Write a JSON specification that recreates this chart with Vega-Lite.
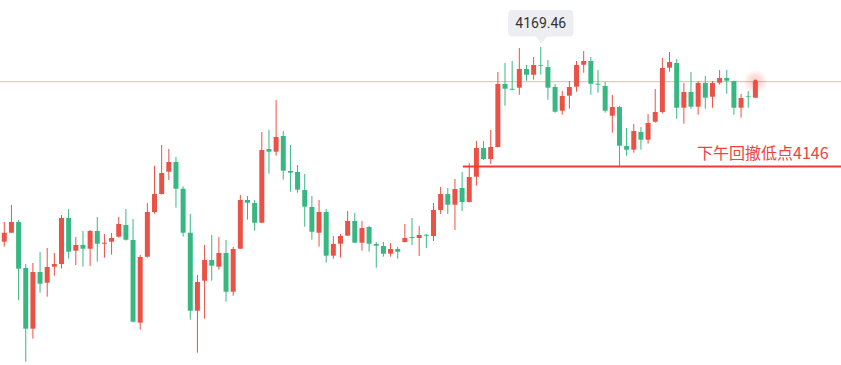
{
  "$schema": "https://vega.github.io/schema/vega-lite/v6.json",
  "width": 841,
  "height": 365,
  "autosize": {"type": "none"},
  "padding": 0,
  "background": "#ffffff",
  "config": {"view": {"stroke": null}},
  "data": {"values": [
{"i":0,"o":4131.24,"h":4135.10,"l":4130.26,"c":4133.00},
{"i":1,"o":4133.00,"h":4138.44,"l":4132.90,"c":4135.10},
{"i":2,"o":4135.10,"h":4135.50,"l":4119.79,"c":4125.94},
{"i":3,"o":4126.07,"h":4126.86,"l":4107.68,"c":4114.16},
{"i":4,"o":4114.16,"h":4127.06,"l":4112.20,"c":4125.29},
{"i":5,"o":4125.29,"h":4129.22,"l":4121.23,"c":4122.99},
{"i":6,"o":4123.19,"h":4130.00,"l":4120.44,"c":4126.27},
{"i":7,"o":4126.33,"h":4129.02,"l":4124.56,"c":4126.86},
{"i":8,"o":4126.86,"h":4136.48,"l":4125.94,"c":4135.89},
{"i":9,"o":4135.89,"h":4137.66,"l":4127.90,"c":4129.27},
{"i":10,"o":4129.47,"h":4132.16,"l":4126.66,"c":4130.59},
{"i":11,"o":4130.59,"h":4133.34,"l":4126.33,"c":4129.86},
{"i":12,"o":4129.86,"h":4133.53,"l":4126.47,"c":4133.34},
{"i":13,"o":4133.34,"h":4136.09,"l":4127.31,"c":4130.84},
{"i":14,"o":4130.84,"h":4132.75,"l":4128.10,"c":4131.04},
{"i":15,"o":4131.24,"h":4132.95,"l":4128.69,"c":4131.96},
{"i":16,"o":4132.22,"h":4136.09,"l":4132.02,"c":4134.71},
{"i":17,"o":4134.52,"h":4137.66,"l":4131.43,"c":4131.63},
{"i":18,"o":4131.57,"h":4135.69,"l":4115.40,"c":4115.53},
{"i":19,"o":4115.34,"h":4128.63,"l":4113.96,"c":4128.23},
{"i":20,"o":4128.29,"h":4138.83,"l":4128.10,"c":4137.07},
{"i":21,"o":4137.07,"h":4146.10,"l":4136.73,"c":4140.60},
{"i":22,"o":4140.60,"h":4150.22,"l":4140.50,"c":4144.72},
{"i":23,"o":4144.98,"h":4149.44,"l":4143.35,"c":4146.88},
{"i":24,"o":4146.88,"h":4147.86,"l":4137.91,"c":4141.64},
{"i":25,"o":4141.64,"h":4142.11,"l":4132.22,"c":4133.00},
{"i":26,"o":4133.00,"h":4136.68,"l":4115.93,"c":4117.69},
{"i":27,"o":4117.69,"h":4124.70,"l":4109.45,"c":4123.33},
{"i":28,"o":4123.58,"h":4130.59,"l":4116.12,"c":4127.65},
{"i":29,"o":4127.65,"h":4132.55,"l":4123.58,"c":4126.53},
{"i":30,"o":4126.33,"h":4132.16,"l":4125.74,"c":4129.02},
{"i":31,"o":4129.02,"h":4131.57,"l":4119.46,"c":4121.42},
{"i":32,"o":4121.42,"h":4130.20,"l":4120.64,"c":4129.80},
{"i":33,"o":4129.86,"h":4140.41,"l":4129.80,"c":4139.42},
{"i":34,"o":4139.42,"h":4140.21,"l":4135.56,"c":4138.89},
{"i":35,"o":4138.83,"h":4139.42,"l":4133.40,"c":4134.97},
{"i":36,"o":4134.97,"h":4152.77,"l":4134.90,"c":4149.24},
{"i":37,"o":4149.44,"h":4153.17,"l":4144.59,"c":4148.91},
{"i":38,"o":4148.91,"h":4159.05,"l":4148.12,"c":4151.79},
{"i":39,"o":4151.99,"h":4152.97,"l":4143.41,"c":4145.18},
{"i":40,"o":4145.12,"h":4150.22,"l":4141.05,"c":4144.78},
{"i":41,"o":4144.92,"h":4146.29,"l":4140.86,"c":4141.45},
{"i":42,"o":4141.39,"h":4144.53,"l":4134.18,"c":4138.11},
{"i":43,"o":4138.05,"h":4140.21,"l":4131.63,"c":4133.20},
{"i":44,"o":4133.00,"h":4139.42,"l":4130.26,"c":4137.07},
{"i":45,"o":4137.07,"h":4137.66,"l":4127.12,"c":4128.49},
{"i":46,"o":4128.49,"h":4132.36,"l":4127.90,"c":4130.79},
{"i":47,"o":4130.84,"h":4132.75,"l":4128.10,"c":4132.36},
{"i":48,"o":4132.42,"h":4137.26,"l":4132.36,"c":4135.30},
{"i":49,"o":4135.30,"h":4136.87,"l":4130.98,"c":4131.04},
{"i":50,"o":4131.04,"h":4135.30,"l":4129.47,"c":4133.93},
{"i":51,"o":4134.12,"h":4134.32,"l":4129.27,"c":4130.84},
{"i":52,"o":4130.79,"h":4131.18,"l":4126.13,"c":4130.45},
{"i":53,"o":4130.39,"h":4131.18,"l":4128.29,"c":4128.88},
{"i":54,"o":4128.88,"h":4130.98,"l":4128.29,"c":4129.80},
{"i":55,"o":4129.80,"h":4130.20,"l":4127.90,"c":4129.27},
{"i":56,"o":4131.18,"h":4134.71,"l":4131.10,"c":4131.96},
{"i":57,"o":4132.16,"h":4135.89,"l":4130.59,"c":4131.96},
{"i":58,"o":4131.96,"h":4134.32,"l":4128.43,"c":4132.55},
{"i":59,"o":4132.61,"h":4132.75,"l":4130.00,"c":4132.42},
{"i":60,"o":4132.36,"h":4138.83,"l":4131.37,"c":4137.46},
{"i":61,"o":4137.46,"h":4141.98,"l":4136.68,"c":4140.60},
{"i":62,"o":4140.60,"h":4141.78,"l":4136.68,"c":4138.50},
{"i":63,"o":4138.50,"h":4143.55,"l":4133.53,"c":4141.58},
{"i":64,"o":4141.78,"h":4144.92,"l":4137.26,"c":4139.03},
{"i":65,"o":4139.03,"h":4146.69,"l":4138.95,"c":4143.94},
{"i":66,"o":4144.00,"h":4151.01,"l":4142.23,"c":4149.63},
{"i":67,"o":4149.63,"h":4151.01,"l":4147.28,"c":4147.47},
{"i":68,"o":4147.47,"h":4153.17,"l":4146.49,"c":4149.83},
{"i":69,"o":4149.83,"h":4164.55,"l":4149.75,"c":4162.20},
{"i":70,"o":4162.20,"h":4166.32,"l":4157.94,"c":4161.27},
{"i":71,"o":4161.27,"h":4166.71,"l":4161.00,"c":4161.08},
{"i":72,"o":4161.47,"h":4169.26,"l":4160.10,"c":4165.14},
{"i":73,"o":4165.14,"h":4165.93,"l":4162.84,"c":4164.02},
{"i":74,"o":4164.02,"h":4167.50,"l":4163.04,"c":4165.93},
{"i":75,"o":4165.93,"h":4169.46,"l":4164.02,"c":4165.79},
{"i":76,"o":4165.53,"h":4166.91,"l":4159.11,"c":4161.47},
{"i":77,"o":4161.61,"h":4162.20,"l":4156.56,"c":4156.76},
{"i":78,"o":4156.95,"h":4160.82,"l":4156.17,"c":4159.84},
{"i":79,"o":4159.90,"h":4162.78,"l":4157.35,"c":4161.61},
{"i":80,"o":4161.67,"h":4166.71,"l":4160.68,"c":4165.93},
{"i":81,"o":4165.98,"h":4168.67,"l":4164.41,"c":4166.71},
{"i":82,"o":4166.71,"h":4167.50,"l":4160.10,"c":4162.25},
{"i":83,"o":4162.25,"h":4164.94,"l":4160.49,"c":4162.06},
{"i":84,"o":4161.80,"h":4162.59,"l":4156.56,"c":4156.95},
{"i":85,"o":4155.97,"h":4160.04,"l":4152.64,"c":4157.68},
{"i":86,"o":4157.68,"h":4157.94,"l":4146.00,"c":4150.08},
{"i":87,"o":4150.02,"h":4153.56,"l":4148.12,"c":4149.30},
{"i":88,"o":4149.30,"h":4154.34,"l":4148.71,"c":4152.97},
{"i":89,"o":4152.77,"h":4153.75,"l":4149.30,"c":4151.26},
{"i":90,"o":4151.26,"h":4156.31,"l":4150.48,"c":4154.54},
{"i":91,"o":4154.79,"h":4161.21,"l":4154.60,"c":4156.70},
{"i":92,"o":4156.70,"h":4167.30,"l":4156.37,"c":4165.34},
{"i":93,"o":4165.40,"h":4168.48,"l":4164.61,"c":4166.51},
{"i":94,"o":4166.32,"h":4167.10,"l":4155.38,"c":4157.54},
{"i":95,"o":4157.54,"h":4162.39,"l":4154.40,"c":4160.63},
{"i":96,"o":4160.63,"h":4164.55,"l":4157.35,"c":4157.74},
{"i":97,"o":4157.74,"h":4162.78,"l":4156.17,"c":4162.39},
{"i":98,"o":4162.39,"h":4163.77,"l":4157.35,"c":4159.51},
{"i":99,"o":4159.70,"h":4162.78,"l":4157.54,"c":4162.39},
{"i":100,"o":4162.45,"h":4164.94,"l":4162.06,"c":4163.37},
{"i":101,"o":4163.37,"h":4164.94,"l":4160.29,"c":4162.84},
{"i":102,"o":4162.78,"h":4162.85,"l":4156.17,"c":4157.54},
{"i":103,"o":4157.54,"h":4160.23,"l":4155.58,"c":4159.45},
{"i":104,"o":4159.78,"h":4160.82,"l":4157.54,"c":4159.64},
{"i":105,"o":4159.51,"h":4162.98,"l":4159.51,"c":4162.65}
  ]},
  "resolve": {"scale": {"x": "shared", "y": "shared"}},
  "layer": [
    {
      "data": {"values": [{"p": 4162.65}]},
      "mark": {"type": "rule", "color": "#f0b2b0", "strokeWidth": 1},
      "encoding": {
        "y": {"field": "p", "type": "quantitative", "scale": {"domain": [4107.03, 4178.69], "nice": false, "zero": false, "padding": 0}, "axis": null}
      }
    },
    {
      "mark": {"type": "rule", "strokeWidth": 1},
      "encoding": {
        "x": {"field": "i", "type": "quantitative", "scale": {"domain": [-0.6, 116.97], "nice": false, "zero": false, "padding": 0}, "axis": null},
        "y": {"field": "l", "type": "quantitative", "axis": null},
        "y2": {"field": "h"},
        "color": {"condition": {"test": "datum.o < datum.c", "value": "#eb5246"}, "value": "#37b882"}
      }
    },
    {
      "mark": {"type": "bar", "size": 5},
      "encoding": {
        "x": {"field": "i", "type": "quantitative", "axis": null},
        "y": {"field": "o", "type": "quantitative", "axis": null},
        "y2": {"field": "c"},
        "color": {"condition": {"test": "datum.o < datum.c", "value": "#eb5246"}, "value": "#37b882"}
      }
    },
    {
      "data": {"values": [{"x1": 64.1, "x2": 116.97, "p": 4146}]},
      "mark": {"type": "rule", "color": "#f23a3a", "strokeWidth": 2},
      "encoding": {
        "x": {"field": "x1", "type": "quantitative", "axis": null},
        "x2": {"field": "x2"},
        "y": {"field": "p", "type": "quantitative", "axis": null}
      }
    },
    {
      "data": {"values": [{"x": 96.85, "p": 4146, "label": "下午回撤低点4146"}]},
      "mark": {"type": "text", "align": "left", "baseline": "alphabetic", "dy": -8, "fontSize": 16, "font": "Noto Sans CJK SC", "color": "#ee4242"},
      "encoding": {
        "x": {"field": "x", "type": "quantitative", "axis": null},
        "y": {"field": "p", "type": "quantitative", "axis": null},
        "text": {"field": "label"}
      }
    },
    {
      "data": {"values": [{"i": 105, "p": 4162.65}]},
      "mark": {"type": "point", "filled": true, "size": 600, "opacity": 1,
        "color": {"gradient": "radial", "stops": [{"offset": 0, "color": "rgba(235,82,70,0.35)"}, {"offset": 1, "color": "rgba(235,82,70,0)"}]}},
      "encoding": {
        "x": {"field": "i", "type": "quantitative", "axis": null},
        "y": {"field": "p", "type": "quantitative", "axis": null}
      }
    },
    {
      "data": {"values": [{"i": 105, "p": 4162.65}]},
      "mark": {"type": "point", "filled": true, "size": 18, "opacity": 0.9, "color": "#eb4646"},
      "encoding": {
        "x": {"field": "i", "type": "quantitative", "axis": null},
        "y": {"field": "p", "type": "quantitative", "axis": null}
      }
    },
    {
      "data": {"values": [{"i": 75, "p": 4169.46, "label": "4169.46"}]},
      "mark": {"type": "point", "filled": true, "size": 4096, "opacity": 1, "color": "#eceef2", "strokeWidth": 0,
        "shape": "M -0.895 -1.156 L 0.895 -1.156 Q 1.02 -1.156 1.02 -1.031 L 1.02 -0.453 Q 1.02 -0.328 0.895 -0.328 L 0.19 -0.328 L 0.02 -0.1 L -0.15 -0.328 L -0.895 -0.328 Q -1.02 -0.328 -1.02 -0.453 L -1.02 -1.031 Q -1.02 -1.156 -0.895 -1.156 Z"},
      "encoding": {
        "x": {"field": "i", "type": "quantitative", "axis": null},
        "y": {"field": "p", "type": "quantitative", "axis": null}
      }
    },
    {
      "data": {"values": [{"i": 75, "p": 4169.46, "label": "4169.46"}]},
      "mark": {"type": "text", "align": "center", "baseline": "alphabetic", "dy": -19.5, "dx": 0, "fontSize": 14, "font": "Roboto", "color": "#333333"},
      "encoding": {
        "x": {"field": "i", "type": "quantitative", "axis": null},
        "y": {"field": "p", "type": "quantitative", "axis": null},
        "text": {"field": "label"}
      }
    }
  ]
}
